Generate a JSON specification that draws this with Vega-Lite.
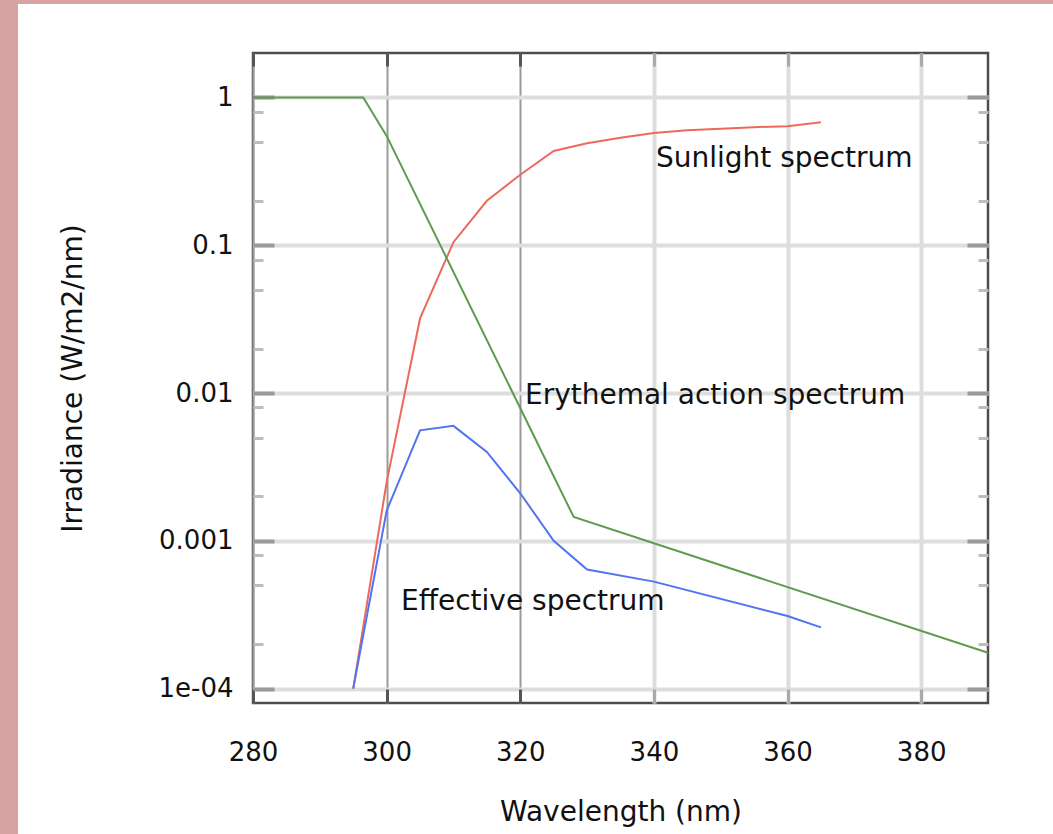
{
  "$schema": "https://vega.github.io/schema/vega-lite/v6.json",
  "background": "white",
  "padding": 0,
  "spacing": 0,
  "config": {
    "view": {"stroke": null},
    "axis": {"labelFont": "DejaVu Sans", "titleFont": "DejaVu Sans", "labelColor": "#111111", "titleColor": "#111111", "titleFontWeight": "normal"},
    "text": {"font": "DejaVu Sans"}
  },
  "datasets": {
    "spectra": [
      {"wl": 295, "val": 0.0001, "series": "Sunlight spectrum"},
      {"wl": 300, "val": 0.0025, "series": "Sunlight spectrum"},
      {"wl": 305, "val": 0.032, "series": "Sunlight spectrum"},
      {"wl": 310, "val": 0.105, "series": "Sunlight spectrum"},
      {"wl": 315, "val": 0.2, "series": "Sunlight spectrum"},
      {"wl": 320, "val": 0.3, "series": "Sunlight spectrum"},
      {"wl": 325, "val": 0.435, "series": "Sunlight spectrum"},
      {"wl": 330, "val": 0.49, "series": "Sunlight spectrum"},
      {"wl": 335, "val": 0.535, "series": "Sunlight spectrum"},
      {"wl": 340, "val": 0.575, "series": "Sunlight spectrum"},
      {"wl": 345, "val": 0.6, "series": "Sunlight spectrum"},
      {"wl": 350, "val": 0.615, "series": "Sunlight spectrum"},
      {"wl": 355, "val": 0.63, "series": "Sunlight spectrum"},
      {"wl": 360, "val": 0.64, "series": "Sunlight spectrum"},
      {"wl": 365, "val": 0.68, "series": "Sunlight spectrum"},
      {"wl": 280, "val": 1, "series": "Erythemal action spectrum"},
      {"wl": 296.5, "val": 1, "series": "Erythemal action spectrum"},
      {"wl": 300, "val": 0.55, "series": "Erythemal action spectrum"},
      {"wl": 328, "val": 0.00145, "series": "Erythemal action spectrum"},
      {"wl": 390, "val": 0.000175, "series": "Erythemal action spectrum"},
      {"wl": 295, "val": 0.0001, "series": "Effective spectrum"},
      {"wl": 300, "val": 0.0016, "series": "Effective spectrum"},
      {"wl": 305, "val": 0.0056, "series": "Effective spectrum"},
      {"wl": 310, "val": 0.006, "series": "Effective spectrum"},
      {"wl": 315, "val": 0.004, "series": "Effective spectrum"},
      {"wl": 320, "val": 0.0021, "series": "Effective spectrum"},
      {"wl": 325, "val": 0.001, "series": "Effective spectrum"},
      {"wl": 330, "val": 0.00064, "series": "Effective spectrum"},
      {"wl": 340, "val": 0.00053, "series": "Effective spectrum"},
      {"wl": 360, "val": 0.00031, "series": "Effective spectrum"},
      {"wl": 365, "val": 0.00026, "series": "Effective spectrum"}
    ],
    "labels": [
      {"wl": 340.3, "val": 0.384, "label": "Sunlight spectrum"},
      {"wl": 320.7, "val": 0.0096, "label": "Erythemal action spectrum"},
      {"wl": 302.15, "val": 0.000386, "label": "Effective spectrum"}
    ]
  },
  "vconcat": [
    {"width": 1053, "height": 4, "data": {"values": []}, "mark": "point", "view": {"fill": "#d9a3a3", "stroke": null}},
    {
      "spacing": 40,
      "hconcat": [
        {"width": 18, "height": 830, "data": {"values": []}, "mark": "point", "view": {"fill": "#d9a3a3", "stroke": null}},
        {
          "spacing": 45,
          "vconcat": [
            {"width": 1, "height": 1, "data": {"values": []}, "mark": "point", "view": {"stroke": null}},
            {
              "width": 735,
              "height": 650,
              "view": {"stroke": "#4d4d4d", "strokeWidth": 2.5},
              "resolve": {"axis": {"x": "independent", "y": "independent"}},
              "layer": [
                {
                  "data": {"name": "spectra"},
                  "mark": {"type": "line", "strokeWidth": 2},
                  "encoding": {
                    "x": {"field": "wl", "type": "quantitative",
                      "scale": {"domain": [280, 390], "nice": false, "zero": false},
                      "axis": {"orient": "bottom", "values": [280, 300, 320, 340, 360, 380], "title": "Wavelength (nm)", "titleFontSize": 28, "titlePadding": 33,
                        "labelFontSize": 26, "labelPadding": 50, "labelFlush": false, "labelOverlap": false,
                        "tickSize": -14, "tickWidth": 3,
                        "tickColor": {"condition": {"test": "datum.value <= 320", "value": "#555555"}, "value": "#aaaaaa"},
                        "grid": true,
                        "gridColor": {"condition": {"test": "datum.value <= 320", "value": "#9a9a9a"}, "value": "#dddddd"},
                        "gridWidth": {"condition": {"test": "datum.value <= 320", "value": 2}, "value": 4},
                        "domain": false}},
                    "y": {"field": "val", "type": "quantitative",
                      "scale": {"type": "log", "domain": [0.00008, 2], "nice": false},
                      "axis": {"orient": "left", "values": [0.0001, 0.001, 0.01, 0.1, 1],
                        "labelExpr": "datum.value < 0.0005 ? '1e-04' : format(datum.value, '~g')",
                        "title": "Irradiance (W/m2/nm)", "titleFontSize": 28, "titlePadding": 70,
                        "labelFontSize": 26, "labelPadding": 41, "labelFlush": false, "labelOverlap": false,
                        "tickSize": -21, "tickWidth": 4, "tickColor": "#9a9a9a",
                        "grid": true, "gridColor": "#dedede", "gridWidth": 4, "domain": false}},
                    "color": {"field": "series", "type": "nominal",
                      "scale": {"domain": ["Sunlight spectrum", "Erythemal action spectrum", "Effective spectrum"], "range": ["#ec6a5c", "#5f9b4f", "#5274f0"]},
                      "legend": null}
                  }
                },
                {
                  "data": {"name": "labels"},
                  "transform": [{"filter": "datum.label === 'Sunlight spectrum'"}],
                  "mark": {"type": "text", "align": "left", "baseline": "middle", "fontSize": 28, "color": "#111111"},
                  "encoding": {
                    "x": {"field": "wl", "type": "quantitative",
                      "axis": {"orient": "top", "values": [280, 300, 320, 340, 360, 380], "labels": false, "title": null, "grid": false, "domain": false,
                        "tickSize": -13, "tickWidth": 3,
                        "tickColor": {"condition": {"test": "datum.value <= 320", "value": "#555555"}, "value": "#aaaaaa"}}},
                    "y": {"field": "val", "type": "quantitative",
                      "axis": {"orient": "right", "values": [0.0001, 0.001, 0.01, 0.1, 1], "labels": false, "title": null, "grid": false, "domain": false,
                        "tickSize": -21, "tickWidth": 4, "tickColor": "#9a9a9a"}},
                    "text": {"field": "label"}
                  }
                },
                {
                  "data": {"name": "labels"},
                  "transform": [{"filter": "datum.label === 'Erythemal action spectrum'"}],
                  "mark": {"type": "text", "align": "left", "baseline": "middle", "fontSize": 28, "color": "#111111"},
                  "encoding": {
                    "x": {"field": "wl", "type": "quantitative", "axis": null},
                    "y": {"field": "val", "type": "quantitative",
                      "axis": {"orient": "left", "values": [0.0002, 0.0005, 0.0008, 0.002, 0.005, 0.008, 0.02, 0.05, 0.08, 0.2, 0.5, 0.8], "labels": false, "title": null, "grid": false, "domain": false,
                        "tickSize": -10, "tickWidth": 3, "tickColor": "#bdbdbd"}},
                    "text": {"field": "label"}
                  }
                },
                {
                  "data": {"name": "labels"},
                  "transform": [{"filter": "datum.label === 'Effective spectrum'"}],
                  "mark": {"type": "text", "align": "left", "baseline": "middle", "fontSize": 28, "color": "#111111"},
                  "encoding": {
                    "x": {"field": "wl", "type": "quantitative", "axis": null},
                    "y": {"field": "val", "type": "quantitative",
                      "axis": {"orient": "right", "values": [0.0002, 0.0005, 0.0008, 0.002, 0.005, 0.008, 0.02, 0.05, 0.08, 0.2, 0.5, 0.8], "labels": false, "title": null, "grid": false, "domain": false,
                        "tickSize": -10, "tickWidth": 3, "tickColor": "#bdbdbd"}},
                    "text": {"field": "label"}
                  }
                }
              ]
            }
          ]
        }
      ]
    }
  ]
}
